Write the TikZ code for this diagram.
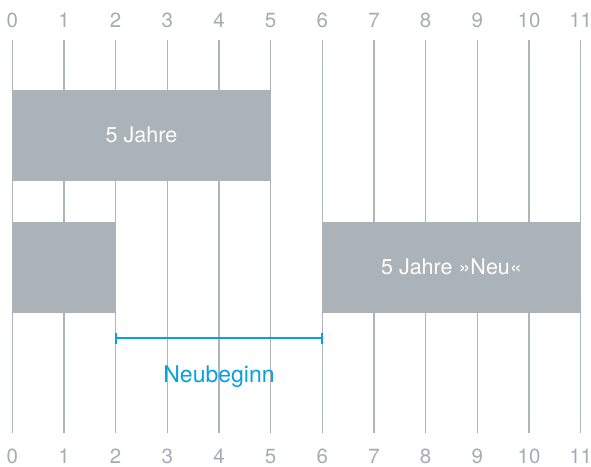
\documentclass[tikz,border=0pt]{standalone}
\usepackage{fontspec}
\setmainfont{TeX Gyre Heros}
\usetikzlibrary{arrows.meta}
\definecolor{gridgray}{RGB}{174,181,187}
\definecolor{boxgray}{RGB}{171,178,184}
\definecolor{labgray}{RGB}{165,172,179}
\definecolor{nblue}{RGB}{8,160,225}
\tikzset{
  gridline/.style={draw=gridgray, line width=1.1pt},
  ticklabel/.style={text=labgray, font=\fontsize{20.5}{22}\selectfont, inner sep=0pt, anchor=base},
  boxnode/.style={fill=boxgray, draw=none, inner sep=0pt, minimum height=90.7pt, text=white, font=\fontsize{21.5}{24}\selectfont},
  bracket/.style={draw=nblue, line width=2pt, {Bar[width=11pt,line width=2pt]}-{Bar[width=11pt,line width=2pt]}, shorten <=-1pt, shorten >=-1pt},
  bluelabel/.style={text=nblue, font=\fontsize{23}{26}\selectfont, inner sep=0pt}
}
\begin{document}
\begin{tikzpicture}[x=51.67pt,y=-1pt]
\useasboundingbox (-0.2381,0) rectangle (11.2001,467);
\foreach \i in {0,...,11}{
  \coordinate (gt\i) at (\i,40);
  \coordinate (gb\i) at (\i,433);
  \draw[gridline] (gt\i) -- (gb\i);
  \node[ticklabel] (lt\i) at (\i,27.7) {\i};
  \node[ticklabel] (lb\i) at (\i,463) {\i};
}
\node[boxnode, minimum width=258.35pt] (b1) at (2.5,135.35) {5 Jahre};
\node[boxnode, minimum width=103.34pt] (b2) at (1,267.35) {};
\node[boxnode, minimum width=258.35pt] (b3) at (8.5,267.35) {5 Jahre »Neu«};
\coordinate (ns) at (2,338.3);
\coordinate (ne) at (6,338.3);
\draw[bracket] (ns) -- (ne);
\node[bluelabel] (nb) at (4,377) {Neubeginn};
\end{tikzpicture}
\end{document}
